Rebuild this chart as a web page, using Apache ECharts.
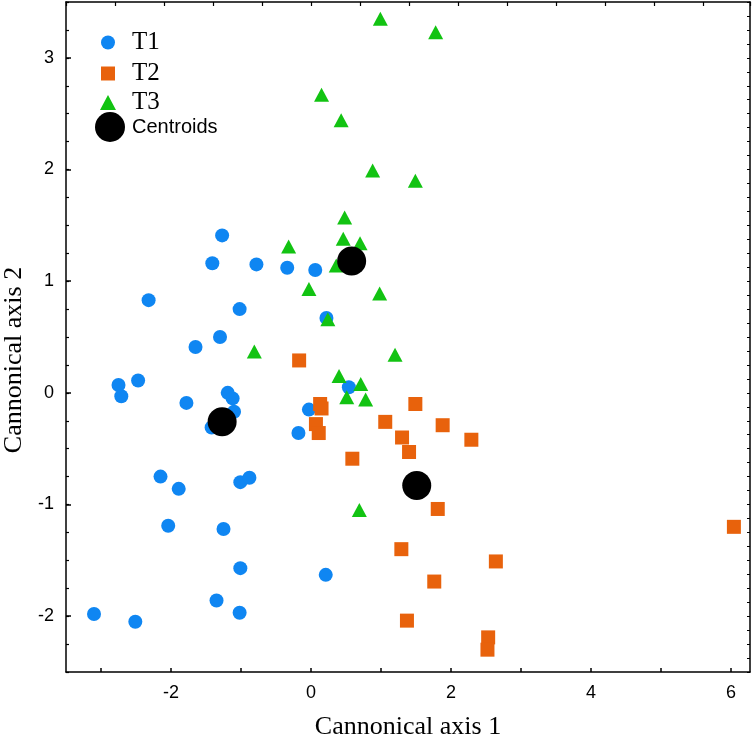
<!DOCTYPE html>
<html>
<head>
<meta charset="utf-8">
<script src="https://cdn.jsdelivr.net/npm/echarts@6/dist/echarts.min.js"></script>
<style>html,body{margin:0;padding:0;background:#fff;}#c{width:754px;height:740px;}</style>
</head>
<body>
<div id="c"></div>
<script>
// T1 (circles)
const t1X = [-1.27,-1.41,-0.78,-0.34,0.06,-2.32,-1.02,0.22,-1.30,-1.65,-2.75,-2.71,-2.47,-1.78,-1.19,-1.12,-1.10,-1.42,0.54,-0.03,-0.18,-2.15,-1.89,-1.01,-0.88,-2.04,-1.25,-1.01,0.21,-1.35,-1.02,-3.10,-2.51];
const t1Y = [1.41,1.16,1.15,1.12,1.10,0.83,0.75,0.67,0.50,0.41,0.07,-0.03,0.11,-0.09,0.00,-0.05,-0.17,-0.31,0.05,-0.15,-0.36,-0.75,-0.86,-0.80,-0.76,-1.19,-1.22,-1.57,-1.63,-1.86,-1.97,-1.98,-2.05];
// T2 (squares)
const t2X = [-0.17,0.13,0.15,0.07,0.11,1.49,1.06,1.88,1.30,1.40,2.29,0.59,1.81,6.04,1.29,2.64,1.76,1.37,2.53,2.52];
const t2Y = [0.29,-0.10,-0.14,-0.28,-0.36,-0.10,-0.26,-0.29,-0.40,-0.53,-0.42,-0.59,-1.04,-1.20,-1.40,-1.51,-1.69,-2.04,-2.19,-2.30];
// T3 (triangles)
const t3X = [0.99,1.78,0.15,0.43,0.88,1.49,0.48,0.46,0.70,-0.32,0.36,-0.03,0.98,0.24,-0.81,1.20,0.40,0.71,0.51,0.78,0.69];
const t3Y = [3.35,3.23,2.67,2.44,1.99,1.90,1.57,1.38,1.34,1.31,1.14,0.93,0.89,0.66,0.37,0.34,0.15,0.08,-0.04,-0.06,-1.05];
// Centroids
const cenX = [-1.27,0.58,1.51];
const cenY = [-0.26,1.18,-0.83];

const xTicks = [-3,-2,-1,0,1,2,3,4,5,6];
const xLabels = [-2,0,2,4,6];
const yTicks = [-2,-1,0,1,2,3];

const zip = (a,b) => a.map((v,i)=>[v,b[i]]);

const sans = 'Liberation Sans';
const serif = 'Liberation Serif';
const axisLine = {show:true, onZero:false, lineStyle:{color:'#000', width:1.5}};

const legendBase = {orient:'vertical', padding:0, itemWidth:14, itemHeight:14};
const chart = echarts.init(document.getElementById('c'), null, {renderer:'canvas'});
chart.setOption({
  animation:false,
  backgroundColor:'#fff',
  grid:{left:66, right:4, top:2, bottom:68, containLabel:false, outerBoundsMode:'none'},
  legend:[
    Object.assign({}, legendBase, {data:[{name:'T1', icon:'circle'}], left:101, top:30,
     textStyle:{fontFamily:serif, fontSize:25, color:'#000', padding:[0,0,0,12]}}),
    Object.assign({}, legendBase, {data:[{name:'T2', icon:'rect'}], left:101, top:61,
     textStyle:{fontFamily:serif, fontSize:25, color:'#000', padding:[0,0,0,12]}}),
    Object.assign({}, legendBase, {data:[{name:'T3', icon:'triangle'}], left:100, top:90, itemWidth:16, itemHeight:15,
     textStyle:{fontFamily:serif, fontSize:25, color:'#000', padding:[0,0,0,11]}}),
    Object.assign({}, legendBase, {data:[{name:'Centroids', icon:'circle'}], left:95, top:112, itemWidth:30, itemHeight:30,
     textStyle:{fontFamily:sans, fontSize:20, color:'#000', padding:[0,0,0,2]}})
  ],
  xAxis:[
    {type:'value', position:'bottom', min:-3.5, max:6.27,
     axisLine:axisLine,
     axisTick:{show:true, inside:true, length:4, customValues:xTicks, lineStyle:{color:'#000', width:1.5}},
     axisLabel:{show:true, customValues:xLabels, fontFamily:sans, fontSize:18, color:'#000', margin:12},
     splitLine:{show:false},
     name:'Cannonical axis 1', nameLocation:'middle', nameGap:42,
     nameTextStyle:{fontFamily:serif, fontSize:26, color:'#000'}},
    {type:'value', position:'top', min:-3.5, max:6.27, interval:0.7,
     axisLine:axisLine,
     axisTick:{show:true, inside:true, length:4, lineStyle:{color:'#000', width:1.2}},
     axisLabel:{show:false}, splitLine:{show:false}}
  ],
  yAxis:[
    {type:'value', position:'left', min:-2.5, max:3.5,
     axisLine:axisLine,
     axisTick:{show:true, inside:true, length:5, customValues:yTicks, lineStyle:{color:'#000', width:1.5}},
     axisLabel:{show:true, customValues:yTicks, fontFamily:sans, fontSize:18, color:'#000', margin:12},
     splitLine:{show:false},
     name:'Cannonical axis 2', nameLocation:'middle', nameGap:35, nameRotate:90,
     nameTextStyle:{fontFamily:serif, fontSize:26, color:'#000', padding:[0,46,0,0]}},
    {type:'value', position:'left', min:-2.5, max:3.5, interval:0.25,
     axisLine:{show:false, onZero:false},
     axisTick:{show:true, inside:true, length:3, lineStyle:{color:'#000', width:1.2}},
     axisLabel:{show:false}, splitLine:{show:false}},
    {type:'value', position:'right', min:-2.5, max:3.5, interval:0.125,
     axisLine:axisLine,
     axisTick:{show:true, inside:true, length:3, lineStyle:{color:'#000', width:1}},
     axisLabel:{show:false}, splitLine:{show:false}}
  ],
  series:[
    {name:'T1', type:'scatter', xAxisIndex:0, yAxisIndex:0, symbol:'circle', symbolSize:14,
     itemStyle:{color:'#0f86f2', opacity:1}, data:zip(t1X,t1Y)},
    {name:'T2', type:'scatter', xAxisIndex:0, yAxisIndex:0, symbol:'rect', symbolSize:14,
     itemStyle:{color:'#e8620c', opacity:1}, data:zip(t2X,t2Y)},
    {name:'T3', type:'scatter', xAxisIndex:0, yAxisIndex:0, symbol:'triangle', symbolSize:[15,14],
     itemStyle:{color:'#12c312', opacity:1}, data:zip(t3X,t3Y)},
    {name:'Centroids', type:'scatter', xAxisIndex:0, yAxisIndex:0, symbol:'circle', symbolSize:29,
     itemStyle:{color:'#000', opacity:1}, data:zip(cenX,cenY)}
  ]
});
</script>
</body>
</html>
